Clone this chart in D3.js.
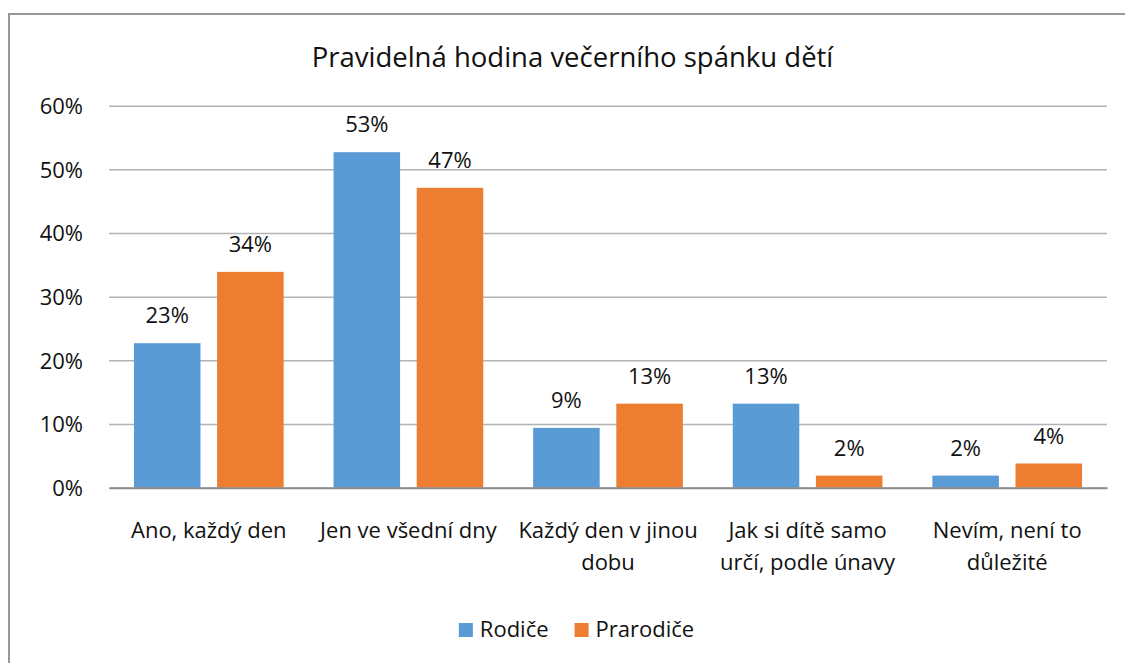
<!DOCTYPE html>
<html>
<head>
<meta charset="utf-8">
<script src="https://cdn.jsdelivr.net/npm/d3@7"></script>
<style>
    body { margin: 0; background: #fff; }
    svg text { font-family: 'Open Sans', 'Noto Sans', sans-serif; fill: #111; }
</style>
</head>
<body>
<div class="bar-chart-container"></div>
<script>
(function(){
    // data
    const categories = ['Ano, každý den', 'Jen ve všední dny', 'Každý den v jinou dobu', 'Jak si dítě samo určí, podle únavy', 'Nevím, není to důležité'];
    // how each category label breaks into lines
    const categoryLines = [
        ['Ano, každý den'],
        ['Jen ve všední dny'],
        ['Každý den v jinou', 'dobu'],
        ['Jak si dítě samo', 'určí, podle únavy'],
        ['Nevím, není to', 'důležité']
    ];
    const seriesNames = ['Rodiče', 'Prarodiče'];
    const seriesColors = ['#5B9BD5', '#ED7D31'];
    const rodice = [0.227, 0.527, 0.094, 0.132, 0.019];
    const prarodice = [0.339, 0.471, 0.132, 0.019, 0.038];
    const yTicks = [0, 0.1, 0.2, 0.3, 0.4, 0.5, 0.6];
    const title = 'Pravidelná hodina večerního spánku dětí';

    const seriesValues = [rodice, prarodice];
    const formatPct = d3.format('.0%');

    const svg_width = 1125;
    const svg_height = 663;
    const plot = { left: 109, right: 1107, top: 105.7, bottom: 487.7 };
    const fontSize = '22px';

    const svg = d3.select('.bar-chart-container').append('svg')
        .attr('width', svg_width).attr('height', svg_height);

    // chart frame
    svg.append('rect')
        .attr('x', 9).attr('y', 14)
        .attr('width', 1200).attr('height', 700)
        .style('fill', '#fff')
        .style('stroke', '#999')
        .style('stroke-width', 2);

    // scales
    const xScale = d3.scaleBand().domain(categories).range([plot.left, plot.right]);
    const bw = xScale.bandwidth();
    const xInner = d3.scaleBand().domain(seriesNames)
        .range([bw * 0.125, bw * 0.875])
        .paddingInner(0.2);
    const yScale = d3.scaleLinear().domain([0, 0.6]).range([plot.bottom, plot.top]);

    // y axis with gridlines
    const yAxis = d3.axisLeft(yScale)
        .tickValues(yTicks)
        .tickFormat(formatPct)
        .tickSizeInner(-(plot.right - plot.left))
        .tickSizeOuter(0)
        .tickPadding(26);
    const yG = svg.append('g').attr('class', 'y axis')
        .attr('transform', `translate(${plot.left},0)`)
        .call(yAxis);
    yG.select('.domain').remove();
    yG.selectAll('.tick line').style('stroke', '#b3b3b3').style('stroke-width', 1.5);
    yG.selectAll('.tick text')
        .style('font-size', fontSize)
        .attr('dy', '0.36em');

    // bars
    const rows = categories.map((c, i) => ({
        category: c,
        values: seriesNames.map((s, j) => ({ series: s, color: seriesColors[j], value: seriesValues[j][i] }))
    }));

    const groups = svg.append('g').attr('class', 'bars')
        .selectAll('.group').data(rows).enter()
        .append('g')
        .attr('class', 'group')
        .attr('transform', d => `translate(${xScale(d.category)},0)`);

    groups.selectAll('rect').data(d => d.values).enter()
        .append('rect')
        .attr('x', d => xInner(d.series))
        .attr('y', d => yScale(d.value))
        .attr('width', xInner.bandwidth())
        .attr('height', d => yScale(0) - yScale(d.value))
        .style('fill', d => d.color);

    // data labels
    groups.selectAll('.value-label').data(d => d.values).enter()
        .append('text')
        .attr('class', 'value-label')
        .attr('x', d => xInner(d.series) + xInner.bandwidth() / 2)
        .attr('y', d => yScale(d.value) - 20)
        .attr('text-anchor', 'middle')
        .style('font-size', fontSize)
        .text(d => formatPct(d.value));

    // x axis line (0%)
    const xAxis = d3.axisBottom(xScale).tickSize(0).tickFormat('');
    const xG = svg.append('g').attr('class', 'x axis')
        .attr('transform', `translate(0,${plot.bottom})`)
        .call(xAxis);
    xG.select('.domain').style('stroke', '#8c8c8c').style('stroke-width', 2);

    // category labels, wrapped
    xG.selectAll('.tick').each(function(d, i) {
        const t = d3.select(this).append('text')
            .attr('text-anchor', 'middle')
            .attr('y', 50)
            .style('font-size', fontSize);
        categoryLines[i].forEach((line, k) => {
            t.append('tspan').attr('x', 0).attr('dy', k === 0 ? 0 : 32).text(line);
        });
    });

    // title
    svg.append('text')
        .attr('x', 572.5).attr('y', 67)
        .attr('text-anchor', 'middle')
        .style('font-size', '27.5px')
        .text(title);

    // legend, centred under the chart
    const legend = svg.append('g').attr('class', 'legend');
    let lx = 0;
    seriesNames.forEach((name, j) => {
        legend.append('rect')
            .attr('x', lx).attr('y', -14)
            .attr('width', 14).attr('height', 14)
            .style('fill', seriesColors[j]);
        const txt = legend.append('text')
            .attr('x', lx + 21).attr('y', 0)
            .style('font-size', fontSize)
            .text(name);
        lx += 21 + txt.node().getComputedTextLength() + 26;
    });
    const legendWidth = lx - 26;
    legend.attr('transform', `translate(${576.5 - legendWidth / 2},637)`);
})();
</script>
</body>
</html>
